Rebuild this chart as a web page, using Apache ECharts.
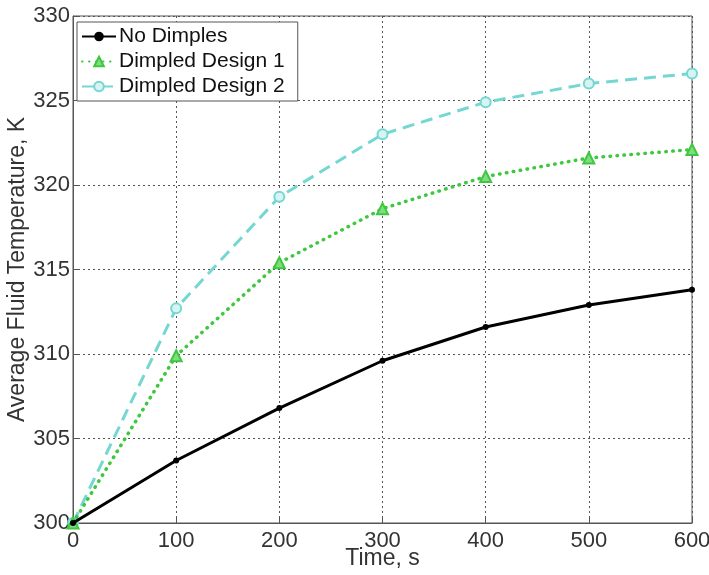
<!DOCTYPE html>
<html><head><meta charset="utf-8">
<script src="https://cdn.jsdelivr.net/npm/echarts@6/dist/echarts.min.js"></script>
<style>html,body{margin:0;padding:0;background:#fff}#c{width:709px;height:575px}</style>
</head><body><div id="c"></div>
<script>
const times = [0, 100, 200, 300, 400, 500, 600];
const noDimples = [300, 303.7, 306.8, 309.6, 311.6, 312.9, 313.8];
const dimpled1 = [300, 309.9, 315.4, 318.6, 320.5, 321.6, 322.1];
const dimpled2 = [300, 312.7, 319.3, 323.0, 324.9, 326.0, 326.6];
const seriesNames = ['No Dimples', 'Dimpled Design 1', 'Dimpled Design 2'];

const pair = arr => times.map((t, i) => [t, arr[i]]);
const font = 'Liberation Sans, Arial, sans-serif';
const chart = echarts.init(document.getElementById('c'));
const gridLine = {show: true, lineStyle: {color: '#555', type: [2, 3], width: 1}};
chart.setOption({
  animation: false,
  grid: {left: 73, right: 17, top: 16, bottom: 52, show: true, borderColor: '#555', borderWidth: 1,
         containLabel: false, outerBoundsMode: 'none'},
  legend: {
    left: 77, top: 22, orient: 'vertical', itemGap: 4, itemWidth: 34, itemHeight: 12,
    padding: [4, 13, 4, 4], borderColor: '#555', borderWidth: 1, backgroundColor: '#fff',
    textStyle: {fontFamily: font, fontSize: 21, color: '#111', padding: [0, 0, 0, -2]},
    data: seriesNames
  },
  xAxis: {
    type: 'value', min: 0, max: 600, interval: 100,
    name: 'Time, s', nameLocation: 'middle', nameGap: 24, nameMoveOverlap: false,
    nameTextStyle: {fontFamily: font, fontSize: 23, color: '#333'},
    axisLine: {lineStyle: {color: '#555'}},
    axisTick: {inside: true, length: 5, lineStyle: {color: '#555'}},
    axisLabel: {fontFamily: font, fontSize: 22, color: '#333', margin: 7},
    splitLine: gridLine
  },
  yAxis: {
    type: 'value', min: 300, max: 330, interval: 5,
    name: 'Average Fluid Temperature, K', nameLocation: 'middle', nameGap: 44, nameMoveOverlap: false,
    nameTextStyle: {fontFamily: font, fontSize: 23, color: '#333'},
    axisLine: {show: true, lineStyle: {color: '#555'}},
    axisTick: {show: true, inside: true, length: 5, lineStyle: {color: '#555'}},
    axisLabel: {fontFamily: font, fontSize: 22, color: '#333', margin: 3},
    splitLine: gridLine
  },
  series: [
    {name: seriesNames[0], type: 'line', data: pair(noDimples), symbol: 'circle', symbolSize: 6,
     lineStyle: {color: '#000', width: 3}, itemStyle: {color: '#000'}, z: 4},
    {name: seriesNames[1], type: 'line', data: pair(dimpled1), symbol: 'triangle', symbolSize: 11,
     lineStyle: {color: '#3fc83f', width: 3.5, type: [0.5, 6.5], cap: 'round'},
     itemStyle: {color: '#7fdc7f', borderColor: '#3fc83f', borderWidth: 2}, z: 3},
    {name: seriesNames[2], type: 'line', data: pair(dimpled2), symbol: 'circle', symbolSize: 10,
     lineStyle: {color: '#74d7d2', width: 3, type: [12, 7]},
     itemStyle: {color: '#d8f4f2', borderColor: '#74d7d2', borderWidth: 2}, z: 2}
  ]
});
</script></body></html>
